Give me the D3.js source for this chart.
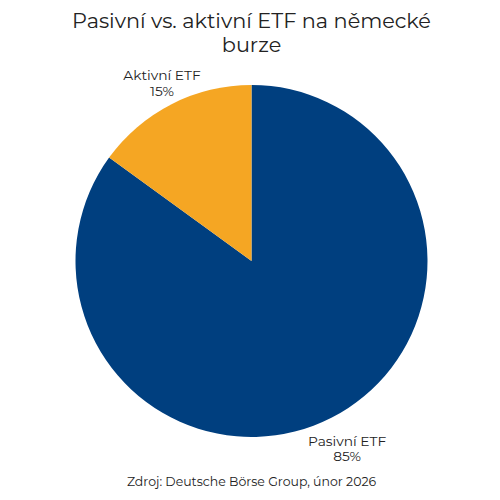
<!DOCTYPE html>
<html>
<head>
<meta charset="utf-8">
<script src="https://cdn.jsdelivr.net/npm/d3@7"></script>
<style>
html, body { margin: 0; padding: 0; background: #fff; }
text { font-family: "Montserrat", "Inter", "Noto Sans", sans-serif; fill: #222; }
</style>
</head>
<body>
<div id="chart"></div>
<script>
var categories = ["Pasivní ETF", "Aktivní ETF"];
var shares = [85, 15];
var colors = ["#003f7f", "#f5a623"];
var titleLines = ["Pasivní vs. aktivní ETF na německé", "burze"];
var source = "Zdroj: Deutsche Börse Group, únor 2026";

var svg = d3.select("#chart").append("svg").attr("width", 500).attr("height", 500);

var cx = 251.5, cy = 261, r = 176;

var pie = d3.pie().sort(null).value(function(d){ return d; });
var arc = d3.arc().innerRadius(0).outerRadius(r);

var g = svg.append("g").attr("transform", "translate(" + cx + "," + cy + ")");

g.selectAll("path")
    .data(pie(shares))
    .enter().append("path")
    .attr("d", arc)
    .attr("fill", function(d, i){ return colors[i]; });

// title
svg.selectAll(".title")
    .data(titleLines)
    .enter().append("text")
    .attr("class", "title")
    .attr("x", 251.5)
    .attr("y", function(d, i){ return 28 + i * 24; })
    .attr("text-anchor", "middle")
    .style("font-size", "20.8px")
    .text(function(d){ return d; });

// labels sit outside the slice, the lower one a bit further out
var labelRadius = [r + 39, r + 19];
var labelNudgeX = [-2, -1];
var labels = svg.append("g").attr("transform", "translate(" + cx + "," + cy + ")");

pie(shares).forEach(function(d, i){
    var la = d3.arc().innerRadius(labelRadius[i]).outerRadius(labelRadius[i]);
    var p = la.centroid(d);
    var t = labels.append("text").attr("text-anchor", "middle").style("font-size", "13.8px");
    t.append("tspan").attr("x", p[0] + labelNudgeX[i]).attr("y", p[1] - 7).text(categories[i]);
    t.append("tspan").attr("x", p[0] + labelNudgeX[i]).attr("y", p[1] + 8.5).text(shares[i] + "%");
});

svg.append("text")
    .attr("x", 251.5)
    .attr("y", 486)
    .attr("text-anchor", "middle")
    .style("font-size", "12.5px")
    .text(source);
</script>
</body>
</html>
